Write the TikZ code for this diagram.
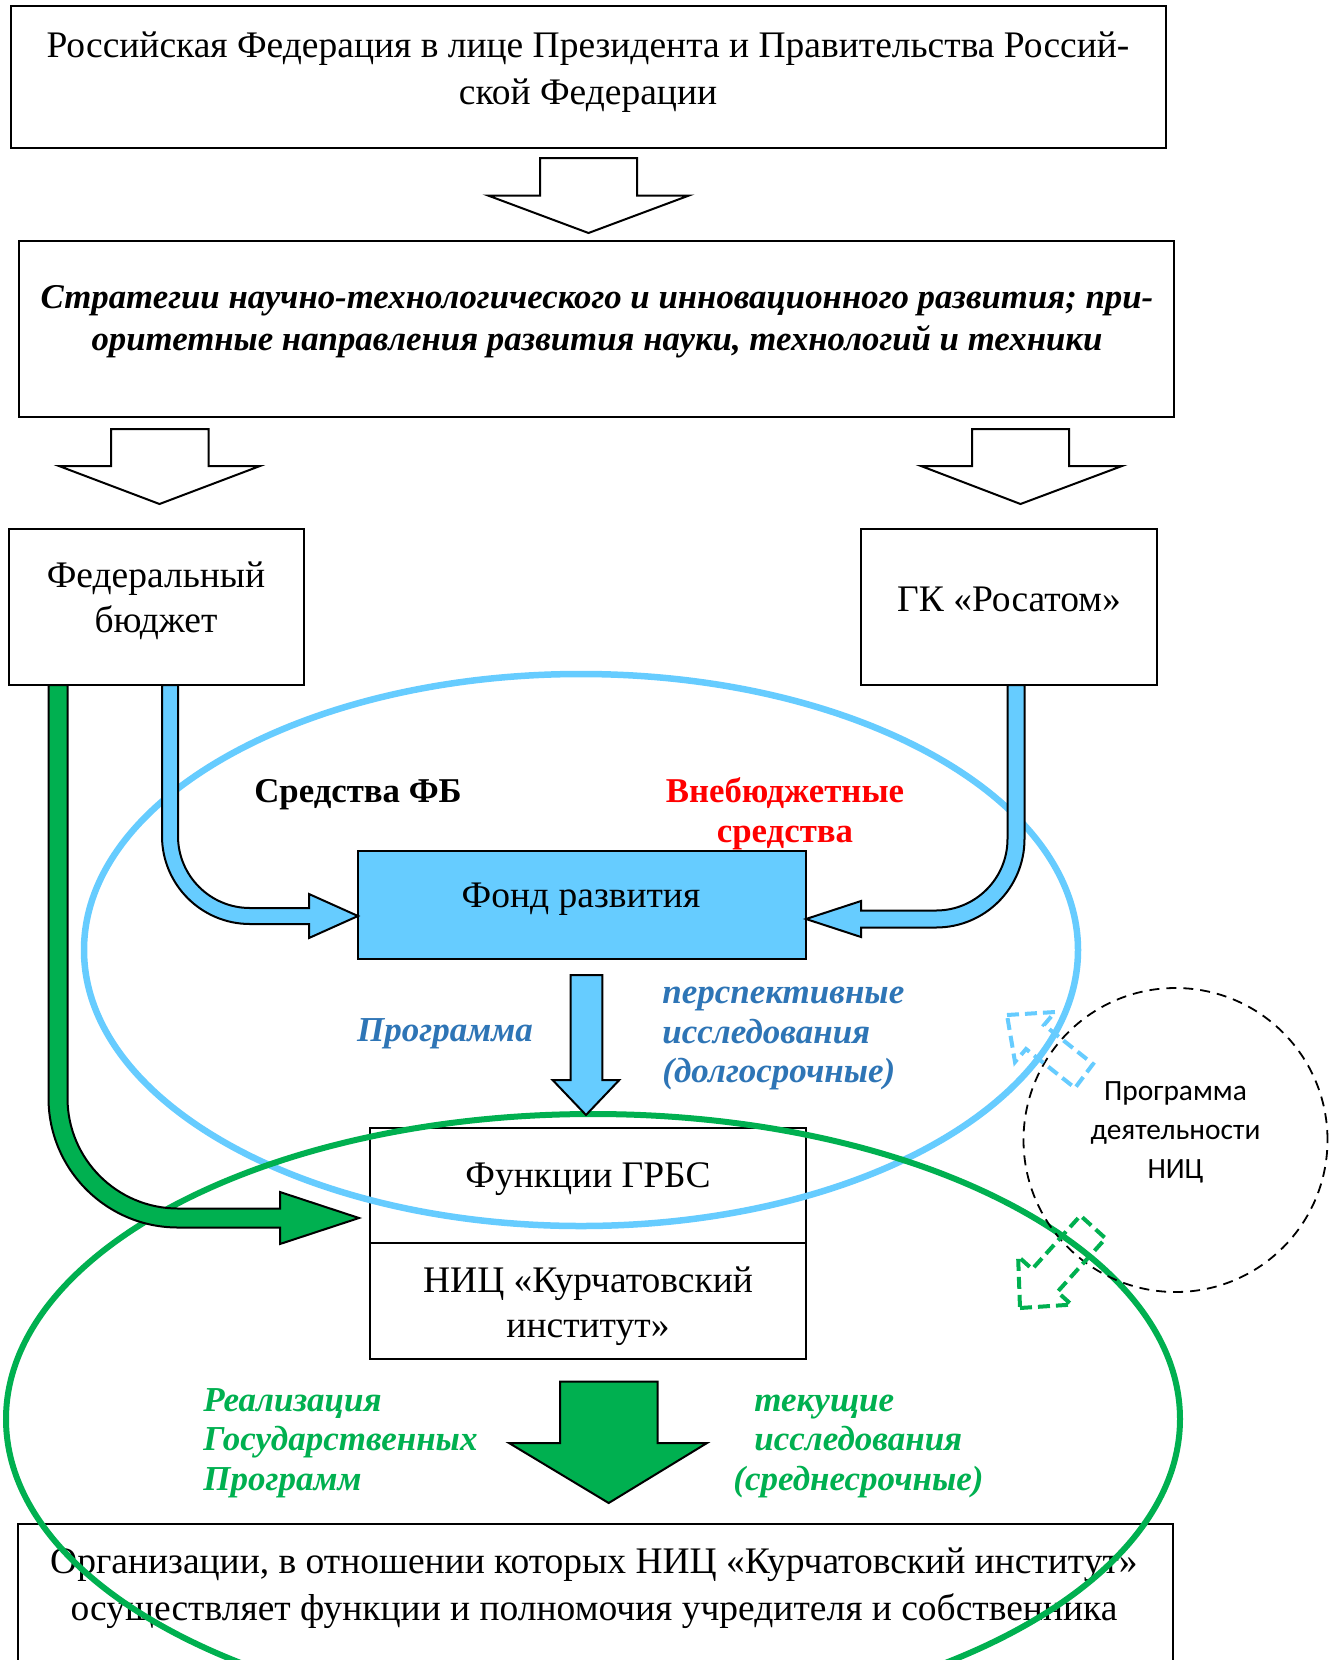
\documentclass[tikz,border=0pt]{standalone}
\usepackage{fontspec}
\setmainfont{Liberation Serif}
\newfontfamily\calfont{Carlito}
\definecolor{lblue}{HTML}{66CCFF}
\definecolor{mgreen}{HTML}{00B050}
\definecolor{tblue}{HTML}{2E75B6}
\begin{document}
\begin{tikzpicture}[x=0.5pt,y=-0.5pt,
  box/.style={draw=black, line width=1pt, inner sep=0pt},
  blk/.style={draw=black, line width=1pt, line join=miter},
  txt/.style={inner sep=0pt, align=center, font=\fontsize{18.75}{23}\selectfont},
  lbl/.style={inner sep=0pt, font=\fontsize{17.5}{19.75}\selectfont\bfseries\itshape},
  dasharrow/.style={line width=2pt, dash pattern=on 6pt off 3pt, line join=miter}]
\clip (0,0) rectangle (1335,1660);
\fill[white] (0,0) rectangle (1335,1660);

% boxes
\node[box, minimum width=577.5pt, minimum height=70.9pt] (rf) at (588.1,77.3) {};
\node[txt, font=\fontsize{18.75}{23.25}\selectfont] (rft) at (588,72)
  {Российская Федерация в лице Президента и Правительства Россий-\\ской Федерации};
\node[box, minimum width=577.5pt, minimum height=88pt] (st) at (596.5,329) {};
\node[txt, font=\fontsize{17.4}{21}\selectfont\bfseries\itshape] (stt) at (597,322)
  {Стратегии научно-технологического и инновационного развития; при-\\оритетные направления развития науки, технологий и техники};
\node[box, minimum width=147.75pt, minimum height=78pt] (fb) at (156.25,607) {};
\node[txt, font=\fontsize{18.75}{22.75}\selectfont] (fbt) at (156,600.7) {Федеральный\\бюджет};
\node[box, minimum width=148pt, minimum height=78pt] (ra) at (1009,607) {};
\node[txt] (rat) at (1009,599) {ГК «Росатом»};
\node[box, fill=lblue, minimum width=224pt, minimum height=54pt] (fr) at (582,905) {};
\node[txt] (frt) at (581,899.2) {Фонд развития};
\node[box, minimum width=218.25pt, minimum height=57.75pt] (gr) at (587.75,1185.25) {};
\node[txt] (grt) at (588,1179.2) {Функции ГРБС};
\node[box, minimum width=218.25pt, minimum height=58pt] (nic) at (587.75,1301) {};
\node[txt, font=\fontsize{18.75}{22.5}\selectfont] (nict) at (588,1305.7) {НИЦ «Курчатовский\\институт»};
\node[box, minimum width=577.5pt, minimum height=117.75pt] (org) at (595.5,1642) {};
\node[txt, font=\fontsize{18.75}{23.25}\selectfont] (orgt) at (594,1588.2)
  {Организации, в отношении которых НИЦ «Курчатовский институт»\\осуществляет функции и полномочия учредителя и собственника};

% ellipses
\draw[lblue, line width=3.25pt] (581,950) ellipse [x radius=248.5pt, y radius=138pt];
\draw[mgreen, line width=3pt] (593,1419) ellipse [x radius=293.5pt, y radius=152.5pt];

% curved block arrows
\draw[blk, fill=lblue] (162,685) -- (162,836) .. controls (162,884.6) and (201.4,924) .. (250,924)
  -- (309,924) -- (309,938) -- (358,916) -- (309,894) -- (309,908) -- (250,908)
  .. controls (210.2,908) and (178,875.8) .. (178,836) -- (178,685) -- cycle;
\draw[blk, fill=lblue] (1007.5,685) -- (1007.5,839) .. controls (1007.5,878.5) and (975.5,910.5) .. (936,910.5)
  -- (861,910.5) -- (861,901) -- (806,919) -- (861,937) -- (861,927.5) -- (936,927.5)
  .. controls (984.9,927.5) and (1024.5,887.9) .. (1024.5,839) -- (1024.5,685) -- cycle;
\draw[blk, fill=mgreen] (48.5,685) -- (48.5,1098) .. controls (48.5,1169.5) and (106.5,1227.5) .. (178,1227.5)
  -- (280,1227.5) -- (280,1244) -- (359,1218) -- (280,1192) -- (280,1208.5) -- (178,1208.5)
  .. controls (117,1208.5) and (67.5,1159) .. (67.5,1098) -- (67.5,685) -- cycle;

% straight block arrows
\draw[blk, fill=white] (540,158) -- (637,158) -- (637,195.5) -- (689,195.5) -- (588.5,233) -- (488,195.5) -- (540,195.5) -- cycle;
\draw[blk, fill=white] (111,429) -- (208.5,429) -- (208.5,466) -- (260,466) -- (159.5,504) -- (59,466) -- (111,466) -- cycle;
\draw[blk, fill=white] (972,429) -- (1069,429) -- (1069,466) -- (1122,466) -- (1020.5,504) -- (921,466) -- (972,466) -- cycle;
\draw[blk, fill=lblue] (570.6,975) -- (602.4,975) -- (602.4,1080) -- (619.3,1080) -- (586,1115) -- (552.6,1080) -- (570.6,1080) -- cycle;
\draw[blk, fill=mgreen] (560,1381.6) -- (657.5,1381.6) -- (657.5,1443) -- (707,1443) -- (608.7,1503) -- (509,1443) -- (560,1443) -- cycle;

% dashed circle
\node[draw=black, circle, line width=0.9pt, dash pattern=on 5pt off 3.5pt, minimum size=152pt, inner sep=0pt] (pr) at (1175.5,1140) {};
\node[inner sep=0pt, align=center, font=\calfont\fontsize{14.7}{19.5}\selectfont] (prt) at (1175.5,1132.5) {Программа\\деятельности\\НИЦ};

% dashed block arrows
\draw[dasharrow, lblue] (1007,1015) -- (1055,1012) -- (1044,1025) -- (1093,1064) -- (1075,1088) -- (1026,1049) -- (1015,1062) -- cycle;
\draw[dasharrow, mgreen] (1020,1308) -- (1071.5,1304.6) -- (1057.4,1291.9) -- (1105.6,1238.4) -- (1080.4,1215.6) -- (1032.2,1269.1) -- (1018.1,1256.4) -- cycle;

% labels
\node[inner sep=0pt, font=\fontsize{17.4}{20}\selectfont\bfseries] (sfb) at (358,794.2) {Средства ФБ};
\node[inner sep=0pt, align=center, text=red, font=\fontsize{17.4}{20}\selectfont\bfseries] (vbs) at (785,814.2) {Внебюджетные\\средства};
\node[lbl, text=tblue] (prg) at (445,1034.2) {Программа};
\node[lbl, text=tblue, anchor=west, align=left] (per) at (662,1038.9) {перспективные\\исследования\\(долгосрочные)};
\node[lbl, text=mgreen, anchor=west, align=left] (rgp) at (203,1443.2) {Реализация\\Государственных\\Программ};
\node[lbl, text=mgreen, anchor=west, align=left] (tek) at (733,1446.4) {\hspace*{10.5pt}текущие\\\hspace*{10.5pt}исследования\\(среднесрочные)};
\end{tikzpicture}
\end{document}
